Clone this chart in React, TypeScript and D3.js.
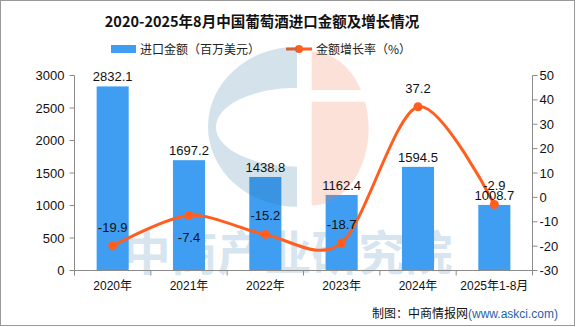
import React from "react";
import * as d3 from "d3";

const categories = ["2020年", "2021年", "2022年", "2023年", "2024年", "2025年1-8月"];
const importValues = [2832.1, 1697.2, 1438.8, 1162.4, 1594.5, 1008.7];
const growthRates = [-19.9, -7.4, -15.2, -18.7, 37.2, -2.9];
const growthLabelSide = ["above", "below", "above", "above", "above", "above"];
const leftTicks = [0, 500, 1000, 1500, 2000, 2500, 3000];
const rightTicks = [-30, -20, -10, 0, 10, 20, 30, 40, 50];

const W = 576;
const H = 327;
const BAR = "#409EF2";
const LINE = "#FF5E1F";
const AXIS = "#8a8a8a";
const NUMFONT = "'Liberation Sans', 'Noto Sans CJK SC', sans-serif";
const CJKFONT = "'Noto Sans CJK SC', sans-serif";

export default function App() {
  const left = 74.5;
  const right = 532.5;
  const top = 75.5;
  const bottom = 270.5;

  const x = d3
    .scaleBand<string>()
    .domain(categories)
    .range([left, right])
    .paddingInner(0.58)
    .paddingOuter(0.29);
  const xStep = d3.scaleBand<string>().domain(categories).range([left, right]);
  const yL = d3.scaleLinear().domain([0, 3000]).range([bottom, top]);
  const yR = d3.scaleLinear().domain([-30, 50]).range([bottom, top]);
  const bw = x.bandwidth();
  const cx = (c: string) => (x(c) as number) + bw / 2;

  const linePath = d3
    .line<number>()
    .x((_, i) => cx(categories[i]))
    .y((d) => yR(d))
    .curve(d3.curveCardinal.tension(0.1))(growthRates) as string;

  const boundaries = categories.map((c) => xStep(c) as number).concat([right]);

  // watermark logo (blue crescent "C" + orange half ellipse with a gap)
  const bx = 297;
  const by = 126.7;
  const blueLogo =
    `M ${bx} ${by - 80} A 89 80 0 0 0 ${bx} ${by + 80} L ${bx} ${by + 40} ` +
    `A 80 39 0 0 1 ${bx} ${by - 39} Z`;
  const ox = 311.7;
  const oy = 128.5;
  const orx = 57;
  const ory = 77;
  const gapTop = 90;
  const gapBot = 101.7;
  const ex = (yy: number) => ox + orx * Math.sqrt(1 - Math.pow((yy - oy) / ory, 2));
  const orangeLogo =
    `M ${ox} ${oy - ory} A ${orx} ${ory} 0 0 1 ${ex(gapTop)} ${gapTop} L ${ox} ${gapTop} Z ` +
    `M ${ox} ${gapBot} L ${ex(gapBot)} ${gapBot} A ${orx} ${ory} 0 0 1 ${ox} ${oy + ory} Z`;

  return (
    <svg
      width={W}
      height={H}
      style={{ position: "fixed", left: 0, top: 0, background: "#fff" }}
      fontFamily={NUMFONT}
    >
      <rect x={0} y={0} width={W} height={H} fill="#fff" />
      <rect x={0.5} y={0.5} width={W - 2} height={H - 2} fill="none" stroke="#999" strokeWidth={1} />

      {/* watermark text (under the marks) */}
      <text
        x={288}
        y={270}
        textAnchor="middle"
        fontSize={47}
        fontWeight="bold"
        fontFamily={CJKFONT}
        fill="#d6e5ef"
      >
        中商产业研究院
      </text>

      <text
        x={262}
        y={27}
        textAnchor="middle"
        fontSize={14.5}
        fontWeight="bold"
        fontFamily={CJKFONT}
        fill="#111"
      >
        2020-2025年8月中国葡萄酒进口金额及增长情况
      </text>

      {/* legend */}
      <rect x={111} y={45} width={25} height={8} fill={BAR} />
      <text x={140} y={53.5} fontSize={12} fontFamily={CJKFONT} fill="#222">
        进口金额（百万美元）
      </text>
      <line x1={286} x2={312} y1={49} y2={49} stroke={LINE} strokeWidth={3} />
      <circle cx={299} cy={49} r={4} fill={LINE} />
      <text x={316} y={53.5} fontSize={12} fontFamily={CJKFONT} fill="#222">
        金额增长率（%）
      </text>

      {/* bars */}
      {categories.map((c, i) => (
        <rect
          key={c}
          x={x(c)}
          y={yL(importValues[i])}
          width={bw}
          height={bottom - yL(importValues[i])}
          fill={BAR}
        />
      ))}

      {/* logo watermark (over bars) */}
      <path d={blueLogo} fill="rgb(40,110,160)" fillOpacity={0.2} />
      <path d={orangeLogo} fill="rgb(240,120,80)" fillOpacity={0.22} />

      {/* line */}
      <path d={linePath} fill="none" stroke={LINE} strokeWidth={3} />
      {categories.map((c, i) => (
        <circle key={c} cx={cx(c)} cy={yR(growthRates[i])} r={4.5} fill={LINE} />
      ))}

      {/* bar labels */}
      {categories.map((c, i) => (
        <text
          key={c}
          x={cx(c)}
          y={yL(importValues[i]) - 5}
          textAnchor="middle"
          fontSize={13}
          fill="#111"
        >
          {importValues[i].toFixed(1)}
        </text>
      ))}

      {/* line labels */}
      {categories.map((c, i) => (
        <text
          key={c}
          x={cx(c)}
          y={yR(growthRates[i]) + (growthLabelSide[i] === "below" ? 27 : -14)}
          textAnchor="middle"
          fontSize={13}
          fill="#111"
        >
          {growthRates[i].toFixed(1)}
        </text>
      ))}

      {/* axes */}
      <line x1={left} x2={left} y1={top} y2={bottom} stroke={AXIS} />
      <line x1={right} x2={right} y1={top} y2={bottom} stroke={AXIS} />
      <line x1={left} x2={right} y1={bottom} y2={bottom} stroke={AXIS} />
      {leftTicks.map((t) => (
        <g key={t}>
          <line x1={left - 5} x2={left} y1={yL(t)} y2={yL(t)} stroke={AXIS} />
          <text x={64.5} y={yL(t) + 4.5} textAnchor="end" fontSize={13} fill="#111">
            {t}
          </text>
        </g>
      ))}
      {rightTicks.map((t) => (
        <g key={t}>
          <line x1={right} x2={right + 5} y1={yR(t)} y2={yR(t)} stroke={AXIS} />
          <text x={539.5} y={yR(t) + 4.5} textAnchor="start" fontSize={13} fill="#111">
            {t}
          </text>
        </g>
      ))}
      {boundaries.map((b, i) => (
        <line key={i} x1={b} x2={b} y1={bottom} y2={bottom + 5} stroke={AXIS} />
      ))}
      {categories.map((c) => (
        <text
          key={c}
          x={cx(c)}
          y={289.5}
          textAnchor="middle"
          fontSize={12}
          fontFamily={NUMFONT}
          fill="#111"
        >
          {c}
        </text>
      ))}

      {/* footer */}
      <text x={558} y={318} textAnchor="end" fontSize={12} fontFamily={CJKFONT} fill="#111">
        制图：中商情报网<tspan fill="#1F5FA8" fontFamily={NUMFONT}>(www.askci.com)</tspan>
      </text>
    </svg>
  );
}
